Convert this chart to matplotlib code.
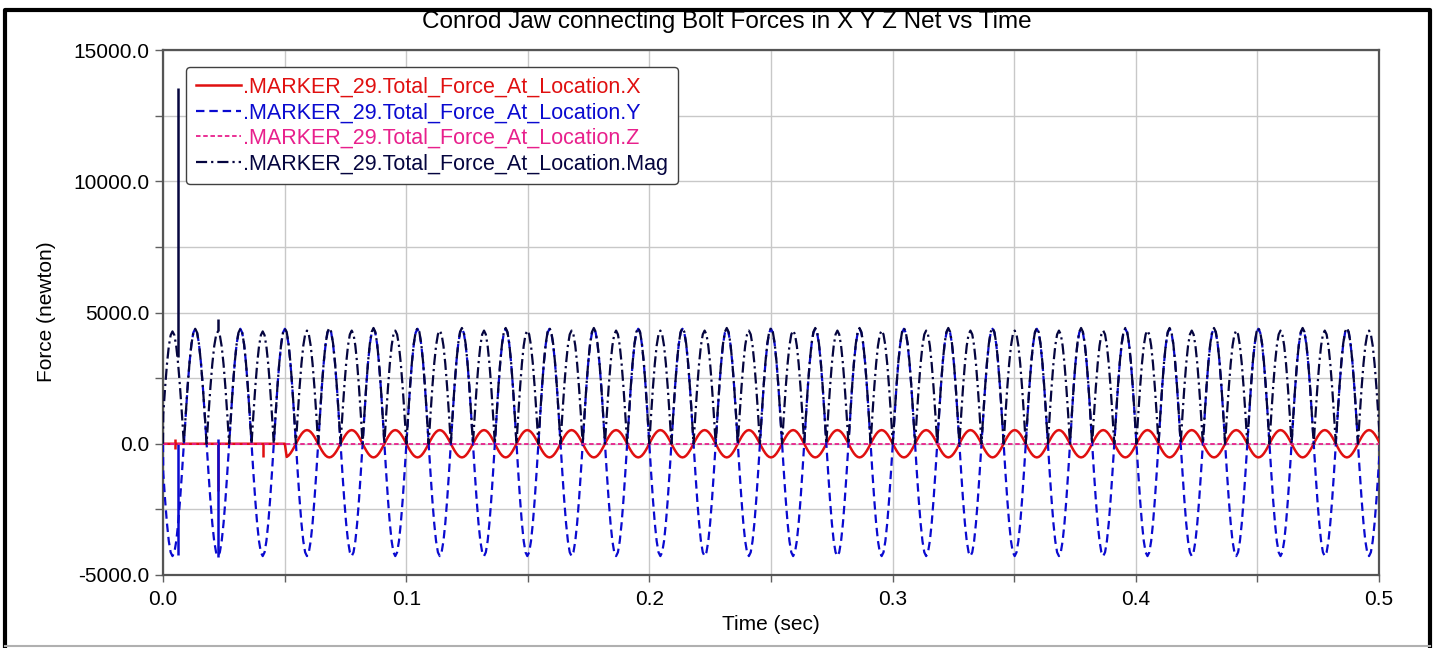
import numpy as np
import matplotlib
matplotlib.use("Agg")
import matplotlib.pyplot as plt
import matplotlib.ticker as mticker
from matplotlib.lines import Line2D

plt.rcParams['font.family'] = ['Liberation Sans', 'DejaVu Sans']

# Y force troughs (sec), one per cycle
Y_TROUGH_T = [0.0039, 0.0226, 0.0410, 0.0592, 0.0776, 0.0955, 0.1138, 0.1320,
              0.1498, 0.1680, 0.1863, 0.2045, 0.2227, 0.2409, 0.2591, 0.2773,
              0.2955, 0.3138, 0.3320, 0.3502, 0.3684, 0.3866, 0.4048, 0.4230,
              0.4413, 0.4595, 0.4777, 0.4959]
Y_PEAK = 4380.0
Y_TROUGH = -4280.0

# one cycle (trough to trough), normalised, read from a single period
CYCLE_SHAPE = [-1.0, -0.966, -0.866, -0.707, -0.5, -0.259, 0.0, 0.259, 0.5, 0.707,
               0.866, 0.966, 1.0, 0.966, 0.866, 0.707, 0.5, 0.259, 0.0, -0.259,
               -0.5, -0.707, -0.866, -0.966]

# X force: ~0 until onset, then opposite phase to Y
X_ONSET = 0.0502
X_AMP = 520.0

# Z force stays on zero
Z_T = [0.0, 0.5]
Z_F = [0.0, 0.0]

# spikes at the start of the run
X_SPIKE_T = [0.0050, 0.0226, 0.0412]
X_SPIKE_LO = [-200.0, -1800.0, -500.0]
X_SPIKE_HI = [200.0, 0.0, 0.0]
Y_SPIKE_T = [0.0062, 0.0226]
Y_SPIKE_LO = [-4250.0, -4300.0]
Y_SPIKE_HI = [0.0, 200.0]
MAG_SPIKE_T = [0.0062, 0.0226]
MAG_SPIKE_LO = [3300.0, 4300.0]
MAG_SPIKE_HI = [13560.0, 4750.0]

LABELS = ['.MARKER_29.Total_Force_At_Location.X',
          '.MARKER_29.Total_Force_At_Location.Y',
          '.MARKER_29.Total_Force_At_Location.Z',
          '.MARKER_29.Total_Force_At_Location.Mag']
COLORS = ['#e01010', '#0a0ad0', '#e8208c', '#05053f']

# lay the cycle shape between the read troughs
period = np.diff(Y_TROUGH_T).mean()
bounds = [Y_TROUGH_T[0] - period] + Y_TROUGH_T + [Y_TROUGH_T[-1] + period]
n = len(CYCLE_SHAPE)
t_list, s_list = [0.0], [0.0]
for a, b in zip(bounds[:-1], bounds[1:]):
    for j in range(n):
        tj = a + (b - a) * j / n
        if tj > 0:
            t_list.append(tj)
            s_list.append(CYCLE_SHAPE[j])
t = np.array(t_list)
shape = np.array(s_list)

y_force = np.where(shape > 0, shape * Y_PEAK, -shape * Y_TROUGH)
x_force = np.where(t >= X_ONSET, -shape * X_AMP, 0.0)
mag = np.hypot(x_force, y_force)

fig = plt.figure(figsize=(14.34, 6.48), dpi=100)
ax = fig.add_axes([163 / 1434, 1 - 575 / 648, 1216 / 1434, 525 / 648])

ax.plot(t, x_force, color=COLORS[0], lw=1.8, label=LABELS[0], zorder=3)
ax.plot(t, y_force, color=COLORS[1], lw=1.6, linestyle=(0, (3.8, 2.2)),
        label=LABELS[1], zorder=4)
ax.plot(Z_T, Z_F, color=COLORS[2], lw=1.3, linestyle=(0, (2.5, 1.5)),
        label=LABELS[2], zorder=5)
ax.plot(t, mag, color=COLORS[3], lw=1.6, linestyle=(0, (5.0, 1.8, 1.0, 1.8)),
        label=LABELS[3], zorder=6)

# spikes are drawn solid
ax.vlines(X_SPIKE_T, X_SPIKE_LO, X_SPIKE_HI, color=COLORS[0], lw=1.8, zorder=3)
ax.vlines(Y_SPIKE_T, Y_SPIKE_LO, Y_SPIKE_HI, color=COLORS[1], lw=1.8, zorder=4)
ax.vlines(MAG_SPIKE_T, MAG_SPIKE_LO, MAG_SPIKE_HI, color=COLORS[3], lw=1.8, zorder=6)

ax.set_xlim(0.0, 0.5)
ax.set_ylim(-5000, 15000)

ax.xaxis.set_major_locator(mticker.MultipleLocator(0.1))
ax.xaxis.set_minor_locator(mticker.MultipleLocator(0.05))
ax.yaxis.set_major_locator(mticker.MultipleLocator(5000))
ax.yaxis.set_minor_locator(mticker.MultipleLocator(2500))
ax.xaxis.set_major_formatter(mticker.FuncFormatter(lambda v, _: f'{v:.1f}'))
ax.yaxis.set_major_formatter(mticker.FuncFormatter(lambda v, _: f'{v:.1f}'))
ax.tick_params(axis='both', which='both', direction='out', colors='#606060',
               labelcolor='black', labelsize=15, width=1.0)
ax.tick_params(axis='y', which='both', length=6, pad=4)
ax.tick_params(axis='x', which='both', length=5, pad=6)

ax.grid(True, which='both', color='#c8c8c8', lw=1.0)
ax.set_axisbelow(True)
for side in ['left', 'bottom', 'top', 'right']:
    ax.spines[side].set_color('#555555')
    ax.spines[side].set_linewidth(1.6)

leg = ax.legend(loc='upper left', bbox_to_anchor=(0.019, 0.968), borderaxespad=0,
                fontsize=15.5, handlelength=2.1, handletextpad=0.1, labelspacing=0.22,
                borderpad=0.45, fancybox=True, framealpha=1, edgecolor='#404040')
leg.get_frame().set_linewidth(1.0)
for txt, c in zip(leg.get_texts(), COLORS):
    txt.set_color(c)
leg.set_zorder(10)

fig.text(727 / 1434, 1 - 22 / 648, 'Conrod Jaw connecting Bolt Forces in X Y Z Net vs Time',
         ha='center', va='center', fontsize=17.5)
fig.text(771 / 1434, 1 - 625 / 648, 'Time (sec)', ha='center', va='center', fontsize=15)
fig.text(47 / 1434, 1 - 312 / 648, 'Force (newton)', ha='center', va='center',
         rotation=90, fontsize=15)

# window frame around the picture
x0, x1 = 5 / 1434, 1430 / 1434
y0, y1 = 1 - 646 / 648, 1 - 10 / 648
fig.add_artist(Line2D([x0, x0, x1, x1], [y0, y1, y1, y0], transform=fig.transFigure,
                      color='black', lw=3))
fig.add_artist(Line2D([x0, x1], [y0, y0], transform=fig.transFigure,
                      color='#b0b0b0', lw=1.5))

fig.savefig('out.png', dpi=100)
